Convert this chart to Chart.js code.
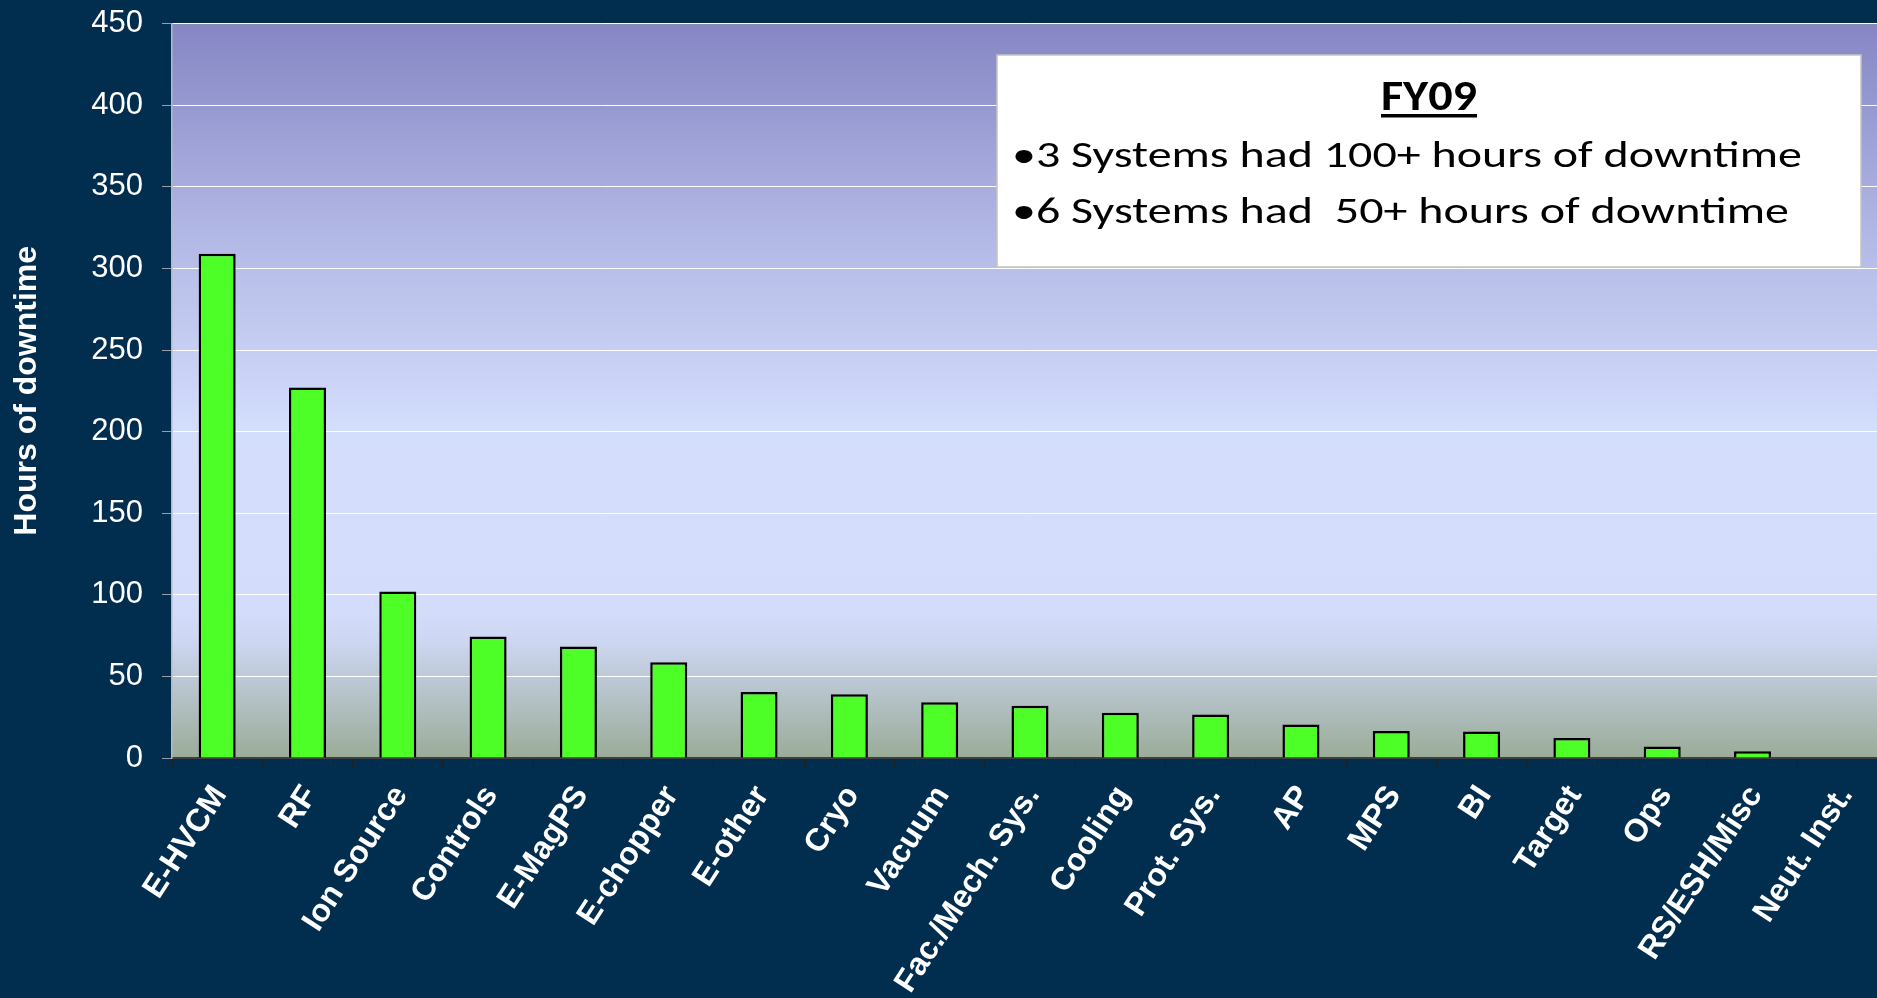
<!DOCTYPE html>
<html><head><meta charset="utf-8">
<script src="https://cdn.jsdelivr.net/npm/chart.js@4"></script>
<style>
html,body{margin:0;padding:0;background:#012d4f;overflow:hidden;width:1877px;height:998px;}
#wrap{position:absolute;left:0;top:-14px;width:1888px;height:1012px;}
</style></head><body>
<div id="wrap"><canvas id="c" width="1888" height="1012"></canvas></div>
<script>
const categories = ['E-HVCM','RF','Ion Source','Controls','E-MagPS','E-chopper','E-other','Cryo','Vacuum','Fac./Mech. Sys.','Cooling','Prot. Sys.','AP','MPS','BI','Target','Ops','RS/ESH/Misc','Neut. Inst.'];
const downtimeHours = [309, 227, 102, 74.4, 68.3, 58.7, 40.4, 39.1, 34.1, 32, 27.7, 26.6, 20.6, 16.5, 16.3, 12.2, 7, 4.1, 0];
const yTicks = [0, 50, 100, 150, 200, 250, 300, 350, 400, 450];
const yAxisTitle = 'Hours of downtime';
const noteTitle = 'FY09';
const noteLines = ['\u20223 Systems had 100+ hours of downtime', '\u20226 Systems had  50+ hours of downtime'];

const OFF = 14; // canvas is shifted up by this many pixels

const plotBg = {
  id: 'plotBg',
  beforeDraw(chart) {
    const {ctx, chartArea: a} = chart;
    const g = ctx.createLinearGradient(0, a.top, 0, a.bottom);
    g.addColorStop(0, '#8586c4');
    g.addColorStop(0.3, '#b4bae6');
    g.addColorStop(0.55, '#d3ddfc');
    g.addColorStop(0.8, '#d3ddfb');
    g.addColorStop(0.84, '#cdd7f2');
    g.addColorStop(0.89, '#bdc9d7');
    g.addColorStop(1, '#9aac98');
    ctx.save();
    ctx.fillStyle = g;
    ctx.fillRect(a.left, a.top, a.right - a.left, a.bottom - a.top);
    ctx.strokeStyle = '#8c8c9c';
    ctx.lineWidth = 1.5;
    ctx.beginPath();
    ctx.moveTo(a.left, a.top + 0.5);
    ctx.lineTo(a.right, a.top + 0.5);
    ctx.stroke();
    ctx.restore();
  }
};

function fitText(ctx, text, x, y, width, align) {
  const w = ctx.measureText(text).width;
  const s = width / w;
  ctx.save();
  ctx.translate(x, y);
  ctx.scale(s, 1);
  ctx.textAlign = 'left';
  ctx.fillText(text, align === 'center' ? -w / 2 : 0, 0);
  ctx.restore();
}

const noteBox = {
  id: 'noteBox',
  afterDraw(chart) {
    const ctx = chart.ctx;
    ctx.save();
    ctx.translate(0, OFF);
    ctx.fillStyle = '#ffffff';
    ctx.fillRect(997, 55, 864, 212);
    ctx.strokeStyle = '#c4c4c4';
    ctx.lineWidth = 1.5;
    ctx.strokeRect(997, 55, 864, 212);
    ctx.fillStyle = '#000000';
    ctx.textBaseline = 'alphabetic';
    ctx.font = 'bold 43px Carlito, Lato, "Open Sans", sans-serif';
    fitText(ctx, noteTitle, 1429, 110, 96, 'center');
    ctx.fillRect(1381, 114, 96, 3.5);
    ctx.font = '37px Carlito, Lato, "Open Sans", sans-serif';
    fitText(ctx, noteLines[0], 1012, 167, 790, 'left');
    fitText(ctx, noteLines[1], 1012, 223, 777, 'left');
    ctx.restore();
  }
};

new Chart(document.getElementById('c'), {
  type: 'bar',
  data: {
    labels: categories,
    datasets: [{
      data: downtimeHours,
      backgroundColor: '#4dff26',
      borderColor: '#000000',
      borderWidth: 2.5,
      barPercentage: 0.41,
      categoryPercentage: 1
    }]
  },
  options: {
    responsive: false,
    devicePixelRatio: 1,
    animation: false,
    layout: {padding: {top: 8, right: 0, left: 0, bottom: 0}},
    plugins: {legend: {display: false}, tooltip: {enabled: false}},
    scales: {
      x: {
        grid: {drawOnChartArea: false, drawTicks: true, tickLength: 9, tickColor: '#1e1e1e', offset: true},
        border: {color: '#404040', width: 2},
        ticks: {
          color: '#ffffff',
          font: {family: '"Liberation Sans", Arial, sans-serif', size: 32, weight: 'bold'},
          minRotation: 57, maxRotation: 57, autoSkip: false, padding: 12, labelOffset: 3
        },
        afterFit(scale) { scale.height = 240; }
      },
      y: {
        min: 0, max: 450,
        afterBuildTicks(scale) { scale.ticks = yTicks.map(v => ({value: v})); },
        grid: {color: '#ffffff', lineWidth: 1, tickLength: 10, tickColor: '#9a9aaa'},
        border: {color: '#b8b8c0', width: 1.5},
        ticks: {
          color: '#ffffff',
          font: {family: '"Liberation Sans", Arial, sans-serif', size: 31},
          padding: 19
        },
        title: {
          display: true, text: yAxisTitle, color: '#ffffff',
          font: {family: '"Liberation Sans", Arial, sans-serif', size: 32, weight: 'bold'},
          padding: {top: 8, bottom: 0}
        },
        afterFit(scale) { scale.width = 172; }
      }
    }
  },
  plugins: [plotBg, noteBox]
});
</script>
</body></html>
